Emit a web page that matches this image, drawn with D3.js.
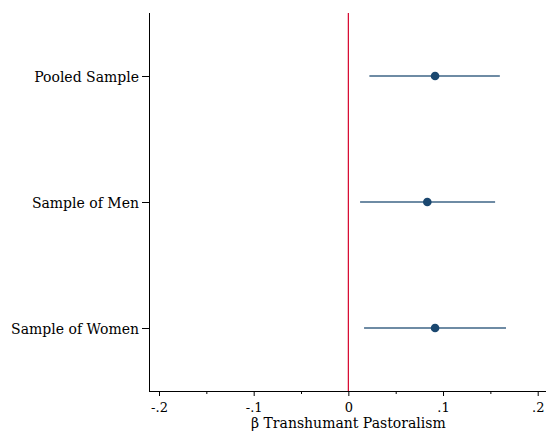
<!DOCTYPE html>
<html><head><meta charset="utf-8">
<script src="https://cdn.jsdelivr.net/npm/d3@7"></script>
<style>body{margin:0;background:#fff}svg{display:block}</style>
</head><body>
<svg id="c" width="546" height="433"></svg>
<script>
const categories = ["Pooled Sample", "Sample of Men", "Sample of Women"];
const estimates = [0.0916, 0.0834, 0.0916];
const ciLow = [0.0222, 0.0124, 0.0166];
const ciHigh = [0.160, 0.155, 0.1665];
const xTicks = [-0.2, -0.1, 0, 0.1, 0.2];
const xTickLabels = ["-.2", "-.1", "0", ".1", ".2"];
const xMinorTicks = [-0.15, -0.05, 0.05, 0.15];
const xTitle = "β Transhumant Pastoralism";

const svg = d3.select("#c");
const font = "'DejaVu Serif', 'Liberation Serif', serif";
const x = d3.scaleLinear().domain([-0.2, 0.2]).range([159, 537.7]);
const y = d3.scaleLinear().domain([0.5, 3.5]).range([13, 391]);
const left = 149, bottom = 391, right = 546;

// axes
const xAxis = d3.axisBottom(x).tickValues(xTicks).tickFormat((d,i)=>xTickLabels[i]).tickSize(5).tickSizeOuter(0);
const gx = svg.append("g").attr("transform", `translate(0,${bottom})`).call(xAxis);
gx.select(".domain").remove();
gx.selectAll("line").attr("stroke","#000");
gx.selectAll("text").attr("font-family",font).attr("font-size",13).attr("fill","#000").attr("dy","0.75em").attr("y",11);
const gxm = svg.append("g").attr("transform", `translate(0,${bottom})`)
  .call(d3.axisBottom(x).tickValues(xMinorTicks).tickFormat("").tickSize(3).tickSizeOuter(0));
gxm.select(".domain").remove();
svg.append("line").attr("x1",left).attr("x2",right).attr("y1",bottom+0.5).attr("y2",bottom+0.5).attr("stroke","#000");

const yAxis = d3.axisLeft(y).tickValues([1,2,3]).tickFormat(d=>categories[d-1]).tickSize(7).tickSizeOuter(0);
const gy = svg.append("g").attr("transform", `translate(${left},0)`).call(yAxis);
gy.select(".domain").remove();
gy.selectAll("text").attr("font-family",font).attr("font-size",14).attr("fill","#000").attr("x",-10).attr("dy","0.4em");
svg.append("line").attr("x1",left+0.5).attr("x2",left+0.5).attr("y1",13).attr("y2",bottom+1).attr("stroke","#000");

svg.append("text").attr("x", x(0)).attr("y", 428).attr("text-anchor","middle")
  .attr("font-family",font).attr("font-size",14).text(xTitle);

// reference line
svg.append("line").attr("x1",x(0)).attr("x2",x(0)).attr("y1",13).attr("y2",bottom)
  .attr("stroke","#d6002a").attr("stroke-width",1.2);

// CIs and points
const rows = categories.map((c,i)=>({c, est:estimates[i], lo:ciLow[i], hi:ciHigh[i], pos:i+1}));
svg.selectAll(".ci").data(rows).join("line")
  .attr("x1",d=>x(d.lo)).attr("x2",d=>x(d.hi)).attr("y1",d=>y(d.pos)).attr("y2",d=>y(d.pos))
  .attr("stroke","#3e6486").attr("stroke-width",1.5);
svg.selectAll(".pt").data(rows).join("circle")
  .attr("cx",d=>x(d.est)).attr("cy",d=>y(d.pos)).attr("r",4.3).attr("fill","#1a476f");
</script>
</body></html>
